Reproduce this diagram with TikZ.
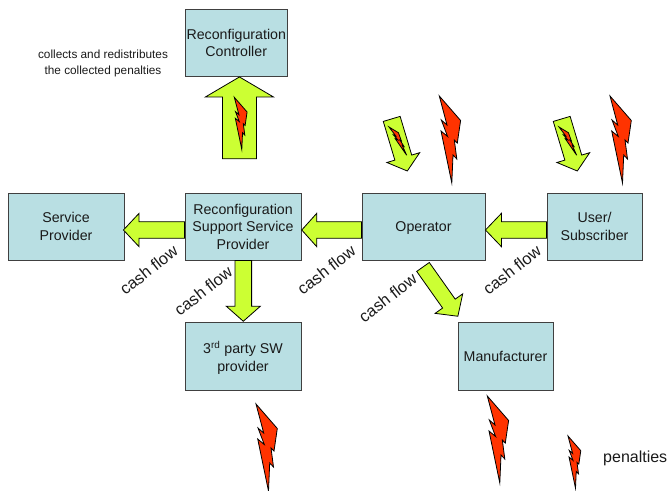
\documentclass[tikz,border=0pt]{standalone}
\usepackage{fontspec}
\setmainfont{Liberation Sans}
\usetikzlibrary{calc}
\definecolor{boxfill}{HTML}{B9DFE3}
\definecolor{arrowfill}{HTML}{CCFF33}
\definecolor{boltfill}{HTML}{FF3300}
\definecolor{inkc}{HTML}{1A1A1A}
\tikzset{
  x=1pt,y=-1pt,
  boxnode/.style={draw=black!75,line width=0.9pt,fill=boxfill,inner sep=0pt,align=center,
    text depth=-1.5pt,font=\fontsize{14.2}{17.6}\selectfont,text=inkc},
  blockarrow/.style={draw=black,line width=0.8pt,fill=arrowfill,line join=miter},
  flowlabel/.style={rotate=38,font=\fontsize{16.4}{18}\selectfont,text=inkc,inner sep=0pt},
  notelabel/.style={font=\fontsize{11.8}{15.5}\selectfont,text=inkc,align=center,inner sep=0pt},
  keylabel/.style={font=\fontsize{16}{18}\selectfont,text=inkc,inner sep=0pt,anchor=west},
  bolt/.pic={
    \draw[draw=black,line width=0.8pt,fill=boltfill,line join=miter]
      (0,0) -- (21.3,24.5) -- (18,47) -- (15,44) -- (17.5,63) -- (13.7,59) -- (12.5,87)
      -- (1.7,35) -- (8.3,40.5) -- (2,24) -- (7.7,29) -- cycle;
  },
}
\newcommand{\blockarrow}[5]{%
  \coordinate (jn) at ($(#2)!#5!(#1)$);
  \draw[blockarrow]
    ($(#1)!#3!90:(#2)$) -- ($(jn)!#3!90:(#2)$) -- ($(jn)!#4!90:(#2)$) -- (#2)
    -- ($(jn)!#4!-90:(#2)$) -- ($(jn)!#3!-90:(#2)$) -- ($(#1)!#3!-90:(#2)$) -- cycle;
}
\begin{document}
\begin{tikzpicture}
\useasboundingbox (0,0) rectangle (668,490);
\newcommand{\boxat}[7]{\node[boxnode,minimum width=#4 pt-#2 pt,minimum height=#5 pt-#3 pt] (#1) at ({(#2+#4)/2},{(#3+#5)/2}) {#6};}
\boxat{ctrl}{185}{9}{287.5}{76.5}{Reconfiguration\\Controller}{}
\boxat{sp}{8}{193}{124}{260}{Service\\Provider}{}
\boxat{rssp}{185}{193}{301}{260}{Reconfiguration\\Support Service\\Provider}{}
\boxat{op}{362}{193}{485}{260}{Operator}{}
\boxat{user}{547}{193}{642}{260}{User/\\Subscriber}{}
\boxat{third}{185}{322}{301}{390}{3\textsuperscript{rd} party SW\\provider}{}
\boxat{manu}{458}{322}{553}{390}{Manufacturer}{}

\coordinate (upS) at ($(ctrl.south)+(3.2,81.8)$);
\coordinate (upT) at ($(ctrl.south)+(3.2,0)$);
\blockarrow{upS}{upT}{17pt}{34pt}{20pt}
\coordinate (a1S) at ($(rssp.west)+(0,3.5)$);
\coordinate (a1T) at ($(sp.east)+(-1,3.5)$);
\blockarrow{a1S}{a1T}{8.3pt}{16.7pt}{15.6pt}
\coordinate (a2S) at ($(op.west)+(0,3.5)$);
\coordinate (a2T) at ($(rssp.east)+(.3,3.5)$);
\blockarrow{a2S}{a2T}{8.3pt}{16.7pt}{15pt}
\coordinate (a3S) at ($(user.west)+(0,3.5)$);
\coordinate (a3T) at ($(op.east)+(0,3.5)$);
\blockarrow{a3S}{a3T}{8.3pt}{16.7pt}{16pt}
\coordinate (dnS) at ($(rssp.south)+(.3,0)$);
\coordinate (dnT) at ($(third.north)+(.3,-.3)$);
\blockarrow{dnS}{dnT}{8.3pt}{17pt}{15pt}
\coordinate (dgS) at ($(op.south)+(-.5,6.5)$);
\coordinate (dgT) at ($(manu.north west)+(.3,-5.3)$);
\blockarrow{dgS}{dgT}{7.7pt}{16.9pt}{15.5pt}
\coordinate (s1S) at (391.7,118.9);
\coordinate (s1T) at (407.3,171);
\blockarrow{s1S}{s1T}{8.8pt}{17.1pt}{14pt}
\coordinate (s2S) at (561.7,118.9);
\coordinate (s2T) at (577.3,171);
\blockarrow{s2S}{s2T}{8.8pt}{17.1pt}{14pt}

\pic at (439.3,96) {bolt};
\pic at (610,96) {bolt};
\pic at (256,404) {bolt};
\pic at (487.3,396) {bolt};
\pic[scale=.6] at (568,436) {bolt};
\pic[scale=.6] at (234.3,97.3) {bolt};
\pic[rotate=26,xscale=.28,yscale=.38] at (389,127) {bolt};
\pic[rotate=26,xscale=.28,yscale=.38] at (559,127) {bolt};

\node[flowlabel] (f1) at (148.7,270) {cash flow};
\node[flowlabel] (f2) at (203.3,291) {cash flow};
\node[flowlabel] (f3) at (326.3,270) {cash flow};
\node[flowlabel] (f4) at (387.7,297.7) {cash flow};
\node[flowlabel] (f5) at (512,270) {cash flow};
\node[notelabel] (note) at (103,63.5) {collects and redistributes\\the collected penalties};
\node[keylabel] (key) at (603,458) {penalties};
\end{tikzpicture}
\end{document}
